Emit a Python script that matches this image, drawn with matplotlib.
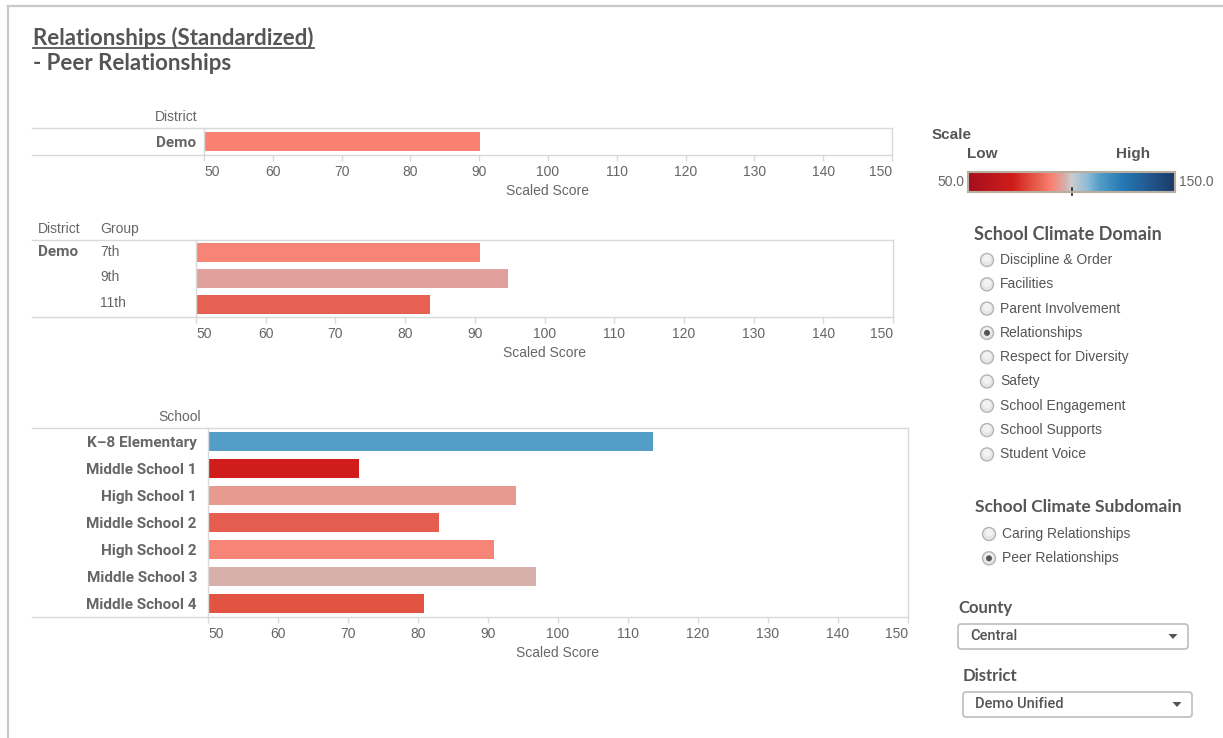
import matplotlib
matplotlib.use("Agg")
import matplotlib.pyplot as plt
import numpy as np
from matplotlib.colors import LinearSegmentedColormap, Normalize
from matplotlib.patches import FancyBboxPatch, Circle, Polygon
from matplotlib.transforms import blended_transform_factory

# ---------------- data ----------------
district_names = ["Demo"]
district_scores = [90.1]

group_district = "Demo"
group_names = ["7th", "9th", "11th"]
group_scores = [90.7, 94.7, 83.6]

school_names = ["K\u20138 Elementary", "Middle School 1", "High School 1", "Middle School 2",
                "High School 2", "Middle School 3", "Middle School 4"]
school_scores = [113.6, 71.5, 94.0, 83.0, 90.9, 96.9, 80.9]

x_ticks = [50, 60, 70, 80, 90, 100, 110, 120, 130, 140, 150]
scale_min, scale_max, scale_mid = 50.0, 150.0, 100.0

domains = ["Discipline & Order", "Facilities", "Parent Involvement", "Relationships",
           "Respect for Diversity", "Safety", "School Engagement", "School Supports",
           "Student Voice"]
domain_selected = "Relationships"
subdomains = ["Caring Relationships", "Peer Relationships"]
subdomain_selected = "Peer Relationships"
county_value = "Central"
district_value = "Demo Unified"

# ---------------- style ----------------
W, H = 1223, 738
DPI = 100
GRID = "#d9d9d9"
TXT = "#666666"
DARK = "#555555"
SANS = ["Liberation Sans", "DejaVu Sans"]
HEAD = ["Lato", "DejaVu Sans"]
LABF = ["Roboto", "DejaVu Sans"]

cmap = LinearSegmentedColormap.from_list("rdbu_tab", [
    (0.00, (165/255, 15/255, 30/255)),
    (0.20, (206/255, 28/255, 27/255)),
    (0.215, (208/255, 28/255, 26/255)),
    (0.31, (227/255, 83/255, 66/255)),
    (0.33, (229/255, 93/255, 78/255)),
    (0.40, (250/255, 128/255, 114/255)),
    (0.41, (245/255, 134/255, 122/255)),
    (0.44, (230/255, 155/255, 145/255)),
    (0.447, (224/255, 161/255, 156/255)),
    (0.47, (215/255, 174/255, 170/255)),
    (0.50, (205/255, 205/255, 206/255)),
    (0.58, (140/255, 187/255, 217/255)),
    (0.636, (83/255, 157/255, 200/255)),
    (0.75, (38/255, 120/255, 180/255)),
    (1.00, (28/255, 58/255, 105/255)),
])
norm = Normalize(scale_min, scale_max)

fig = plt.figure(figsize=(W / DPI, H / DPI), dpi=DPI)
fig.patch.set_facecolor("white")

ov = fig.add_axes([0, 0, 1, 1])
ov.set_xlim(0, W)
ov.set_ylim(H, 0)
ov.axis("off")
ov.set_zorder(0)

# outer frame (top and left)
ov.plot([8, W], [6, 6], color="#c8c8c8", lw=1.6)
ov.plot([8, 8], [6, H], color="#c8c8c8", lw=1.6)

# titles
title = ov.text(33, 38, "Relationships (Standardized)", fontsize=16, fontweight="bold",
                family=HEAD, color=DARK, va="center", ha="left")
ov.text(33, 63, "- Peer Relationships", fontsize=16, fontweight="bold",
        family=HEAD, color=DARK, va="center", ha="left")
fig.canvas.draw()
bb = title.get_window_extent().transformed(ov.transData.inverted())
ov.plot([bb.x0, bb.x1], [48, 48], color=DARK, lw=1.3)


def px_axes(x0, y0, x1, y1):
    return fig.add_axes([x0 / W, 1 - y1 / H, (x1 - x0) / W, (y1 - y0) / H])


def style_axes(ax, left_px, top_px, bot_px):
    ax.set_xlim(scale_min, scale_max)
    ax.set_xticks(x_ticks)
    ax.set_xticklabels([str(v) for v in x_ticks])
    for s in ax.spines.values():
        s.set_color(GRID)
        s.set_linewidth(1.0)
    ax.tick_params(axis="x", length=4, width=1, color=GRID, labelcolor=TXT,
                   labelsize=10, pad=3)
    for lab in ax.get_xticklabels():
        lab.set_family(SANS)
    labs = ax.get_xticklabels()
    labs[0].set_ha("left")
    labs[-1].set_ha("right")
    ax.tick_params(axis="y", length=0)
    ax.set_xlabel("Scaled Score", fontsize=10, color=TXT, family=SANS, labelpad=4)
    ov.plot([32, left_px], [top_px, top_px], color=GRID, lw=1.0)
    ov.plot([32, left_px], [bot_px, bot_px], color=GRID, lw=1.0)


# ---------------- panel 1: district ----------------
a1 = px_axes(204, 128, 892, 155)
y1 = np.arange(len(district_names))
a1.barh(y1, np.array(district_scores) - scale_min, left=scale_min, height=0.74,
        color=cmap(norm(district_scores)), zorder=2)
a1.set_ylim(len(district_names) - 0.5, -0.5)
a1.set_yticks(y1)
a1.set_yticklabels(district_names, fontsize=11, fontweight="bold", family=LABF, color=TXT)
a1.tick_params(axis="y", pad=6)
style_axes(a1, 204, 128, 155)
ov.text(197, 117, "District", fontsize=10, color=TXT, family=SANS, ha="right", va="center")

# ---------------- panel 2: groups ----------------
a2 = px_axes(196, 240, 893, 317)
y2 = np.arange(len(group_names))
a2.barh(y2, np.array(group_scores) - scale_min, left=scale_min, height=0.74,
        color=cmap(norm(group_scores)), zorder=2)
a2.set_ylim(len(group_names) - 0.5, -0.5)
a2.set_yticks([])
tr2 = blended_transform_factory(ov.transData, a2.transData)
for yy, g in zip(y2, group_names):
    a2.text(100, yy - 0.05, g, transform=tr2, fontsize=10, color=TXT, family=SANS,
            ha="left", va="center")
a2.text(38, -0.05, group_district, transform=tr2, fontsize=11, fontweight="bold",
        family=LABF, color=TXT, ha="left", va="center")
style_axes(a2, 196, 240, 317)
ov.text(38, 229, "District", fontsize=10, color=TXT, family=SANS, ha="left", va="center")
ov.text(100, 229, "Group", fontsize=10, color=TXT, family=SANS, ha="left", va="center")

# ---------------- panel 3: schools ----------------
a3 = px_axes(208, 428, 908, 617)
y3 = np.arange(len(school_names))
a3.barh(y3, np.array(school_scores) - scale_min, left=scale_min, height=0.74,
        color=cmap(norm(school_scores)), zorder=2)
a3.set_ylim(len(school_names) - 0.5, -0.5)
a3.set_yticks(y3)
a3.set_yticklabels(school_names, fontsize=11, fontweight="bold", family=LABF, color=TXT)
a3.tick_params(axis="y", pad=8)
style_axes(a3, 208, 428, 617)
ov.text(201, 417, "School", fontsize=10, color=TXT, family=SANS, ha="right", va="center")

# ---------------- colour legend ----------------
ov.text(932, 135, "Scale", fontsize=11, fontweight="bold", family=SANS, color=DARK,
        ha="left", va="center")
ov.text(967, 154, "Low", fontsize=11, fontweight="bold", family=SANS, color=DARK,
        ha="left", va="center")
ov.text(1150, 154, "High", fontsize=11, fontweight="bold", family=SANS, color=DARK,
        ha="right", va="center")
cb = px_axes(968, 172, 1175, 192)
grad = np.linspace(scale_min, scale_max, 400).reshape(1, -1)
cb.imshow(grad, aspect="auto", cmap=cmap, norm=norm,
          extent=[scale_min, scale_max, 0, 1])
cb.set_xlim(scale_min, scale_max)
cb.set_ylim(0, 1)
cb.set_xticks([])
cb.set_yticks([])
for s in cb.spines.values():
    s.set_color("#b8ad9f")
    s.set_linewidth(1.5)
cb.plot([scale_mid, scale_mid], [-0.15, 0.22], color="#222222", lw=1.2, clip_on=False)
ov.text(964, 182, f"{scale_min:.1f}", fontsize=10, family=SANS, color=TXT,
        ha="right", va="center")
ov.text(1179, 182, f"{scale_max:.1f}", fontsize=10, family=SANS, color=TXT,
        ha="left", va="center")


def radio(x, y, selected):
    ov.add_patch(Circle((x, y), 6.5, facecolor="#e6e6e6", edgecolor="#b4b4b4", lw=1.0,
                        zorder=3))
    ov.add_patch(Circle((x, y - 1.5), 4.0, facecolor="#f2f2f2", edgecolor="none",
                        zorder=3))
    if selected:
        ov.add_patch(Circle((x, y), 3.0, facecolor="#555555", edgecolor="none", zorder=4))


ov.text(974, 235, "School Climate Domain", fontsize=13, fontweight="bold", family=HEAD,
        color=DARK, ha="left", va="center")
for i, d in enumerate(domains):
    yy = 260 + i * 24.3
    radio(987, yy, d == domain_selected)
    ov.text(1000, yy, d, fontsize=10, family=SANS, color=DARK, ha="left", va="center")

ov.text(975, 507, "School Climate Subdomain", fontsize=12.5, fontweight="bold",
        family=HEAD, color=DARK, ha="left", va="center")
for i, d in enumerate(subdomains):
    yy = 534 + i * 24.3
    radio(989, yy, d == subdomain_selected)
    ov.text(1002, yy, d, fontsize=10, family=SANS, color=DARK, ha="left", va="center")


def dropdown(x0, y0, x1, y1, value):
    ov.add_patch(FancyBboxPatch((x0, y0), x1 - x0, y1 - y0,
                                boxstyle="round,pad=0,rounding_size=3",
                                facecolor="white", edgecolor="#bdbdbd", lw=1.2, zorder=3))
    ov.text(x0 + 12, (y0 + y1) / 2, value, fontsize=10.5, fontweight="medium", family=LABF,
            color=DARK, ha="left", va="center", zorder=4)
    cx, cy = x1 - 15, (y0 + y1) / 2
    ov.add_patch(Polygon([[cx - 4.5, cy - 2.5], [cx + 4.5, cy - 2.5], [cx, cy + 2.5]],
                         closed=True, facecolor="#555555", edgecolor="none", zorder=4))


ov.text(958, 608, "County", fontsize=12, fontweight="bold", family=HEAD, color=DARK,
        ha="left", va="center")
dropdown(958, 624, 1188, 649, county_value)
ov.text(963, 676, "District", fontsize=12, fontweight="bold", family=HEAD, color=DARK,
        ha="left", va="center")
dropdown(963, 692, 1192, 717, district_value)

fig.savefig("out.png", dpi=DPI, facecolor="white")
